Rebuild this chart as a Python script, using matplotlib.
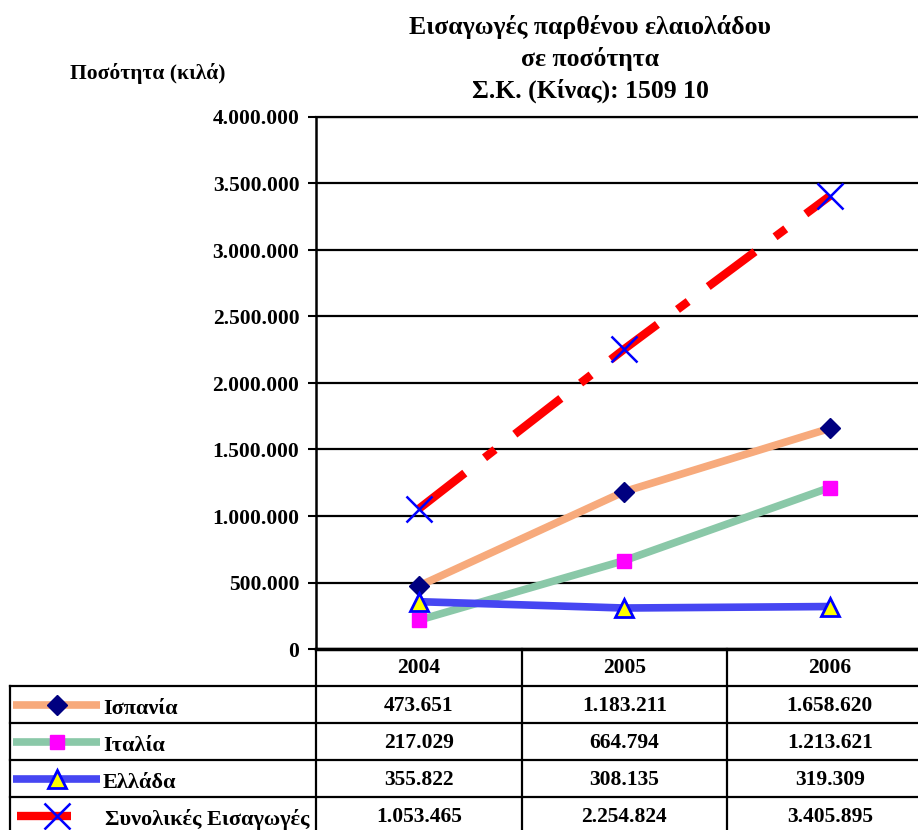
import matplotlib.pyplot as plt
from matplotlib.lines import Line2D
from matplotlib.ticker import FuncFormatter, MultipleLocator
from matplotlib import transforms

plt.rcParams['font.family'] = ['Liberation Serif', 'DejaVu Serif']
plt.rcParams['font.weight'] = 'bold'

# data
years = ["2004", "2005", "2006"]
countries = ["Ισπανία", "Ιταλία", "Ελλάδα", "Συνολικές Εισαγωγές"]
spain = [473651, 1183211, 1658620]
italy = [217029, 664794, 1213621]
greece = [355822, 308135, 319309]
total = [1053465, 2254824, 3405895]
series = [spain, italy, greece, total]

title = "Εισαγωγές παρθένου ελαιολάδου\nσε ποσότητα\nΣ.Κ. (Κίνας): 1509 10"
ylabel = "Ποσότητα (κιλά)"

styles = [
    dict(color='#F7AA7C', lw=5.5, marker='D', ms=10, mfc='#000080', mec='#000080'),
    dict(color='#8AC8A8', lw=5.5, marker='s', ms=10.5, mfc='#FF00FF', mec='#FF00FF'),
    dict(color='#4646F2', lw=5.5, marker='^', ms=13, mfc='#FFFF00', mec='#0000FF', mew=2),
    dict(color='#FF0000', lw=6, dashes=(7, 3, 1.6, 3), marker='x', ms=19,
         mec='#0000FF', mew=1.8),
]

W, H = 918, 830
fig = plt.figure(figsize=(W / 100, H / 100), dpi=100)


def fx(px):
    return px / W


def fy(py):
    return 1 - py / H


x0, col_w, y_top, y_zero = 316, 205.5, 117, 649
ax = fig.add_axes([fx(x0), fy(y_zero), fx(3 * col_w), (y_zero - y_top) / H])

xs = range(len(years))
for vals, st in zip(series, styles):
    ax.plot(xs, vals, clip_on=False, solid_capstyle='butt', **st)

ax.set_xlim(-0.5, 2.5)
ax.set_ylim(0, 4000000)
ax.yaxis.set_major_locator(MultipleLocator(500000))
ax.yaxis.set_major_formatter(FuncFormatter(lambda v, p: f"{int(v):,}".replace(",", ".")))
ax.grid(axis='y', color='black', lw=1.6)
ax.set_axisbelow(True)
ax.set_xticks([])
ax.tick_params(axis='y', length=6, width=1.5, pad=6, labelsize=15.5)
for lab in ax.get_yticklabels():
    lab.set_fontweight('bold')
ax.spines['right'].set_visible(False)
ax.spines['left'].set_linewidth(1.8)
ax.spines['top'].set_linewidth(1.6)
ax.spines['bottom'].set_linewidth(2.5)

fig.text(fx(590), fy(59), title, ha='center', va='center', fontsize=18.5,
         fontweight='bold', linespacing=1.4)
fig.text(fx(148), fy(73), ylabel, ha='center', va='center', fontsize=15.5,
         fontweight='bold')

# data table below the axis
tb = transforms.blended_transform_factory(ax.transData, fig.transFigure)
lc = dict(color='black', lw=1.6)
for xv in [-0.5, 0.5, 1.5]:
    fig.add_artist(Line2D([xv, xv], [fy(y_zero), 0], transform=tb, **lc))
row_top, row_h = 686, 37
for i in range(len(countries)):
    yy = row_top + i * row_h
    fig.add_artist(Line2D([fx(10), 1], [fy(yy), fy(yy)], transform=fig.transFigure, **lc))
fig.add_artist(Line2D([fx(10), fx(10)], [fy(row_top), 0], transform=fig.transFigure, **lc))

for j, yr in enumerate(years):
    fig.text(j, fy(668), yr, transform=tb, ha='center', va='center',
             fontsize=15.5, fontweight='bold')

for i, (name, vals, st) in enumerate(zip(countries, series, styles)):
    cy = row_top + i * row_h + row_h / 2
    for j, v in enumerate(vals):
        fig.text(j, fy(cy + 1), f"{v:,}".replace(",", "."), transform=tb,
                 ha='center', va='center', fontsize=15.5, fontweight='bold')
    if i < 3:
        x1, x2, tx = 13, 100, 103
    else:
        x1, x2, tx = 17, 71, 105
    s = dict(st)
    fig.add_artist(Line2D([fx(x1), fx(x2)], [fy(cy), fy(cy)],
                          transform=fig.transFigure, solid_capstyle='butt',
                          color=s['color'], lw=s['lw']))
    fig.add_artist(Line2D([fx(57)], [fy(cy)], transform=fig.transFigure, ls='none',
                          marker=s['marker'], ms=s['ms'], mfc=s.get('mfc', 'none'),
                          mec=s['mec'], mew=s.get('mew', 1)))
    fig.text(fx(tx), fy(cy + 4), name, ha='left', va='center', fontsize=16,
             fontweight='bold')

fig.savefig('out.png', dpi=100)
